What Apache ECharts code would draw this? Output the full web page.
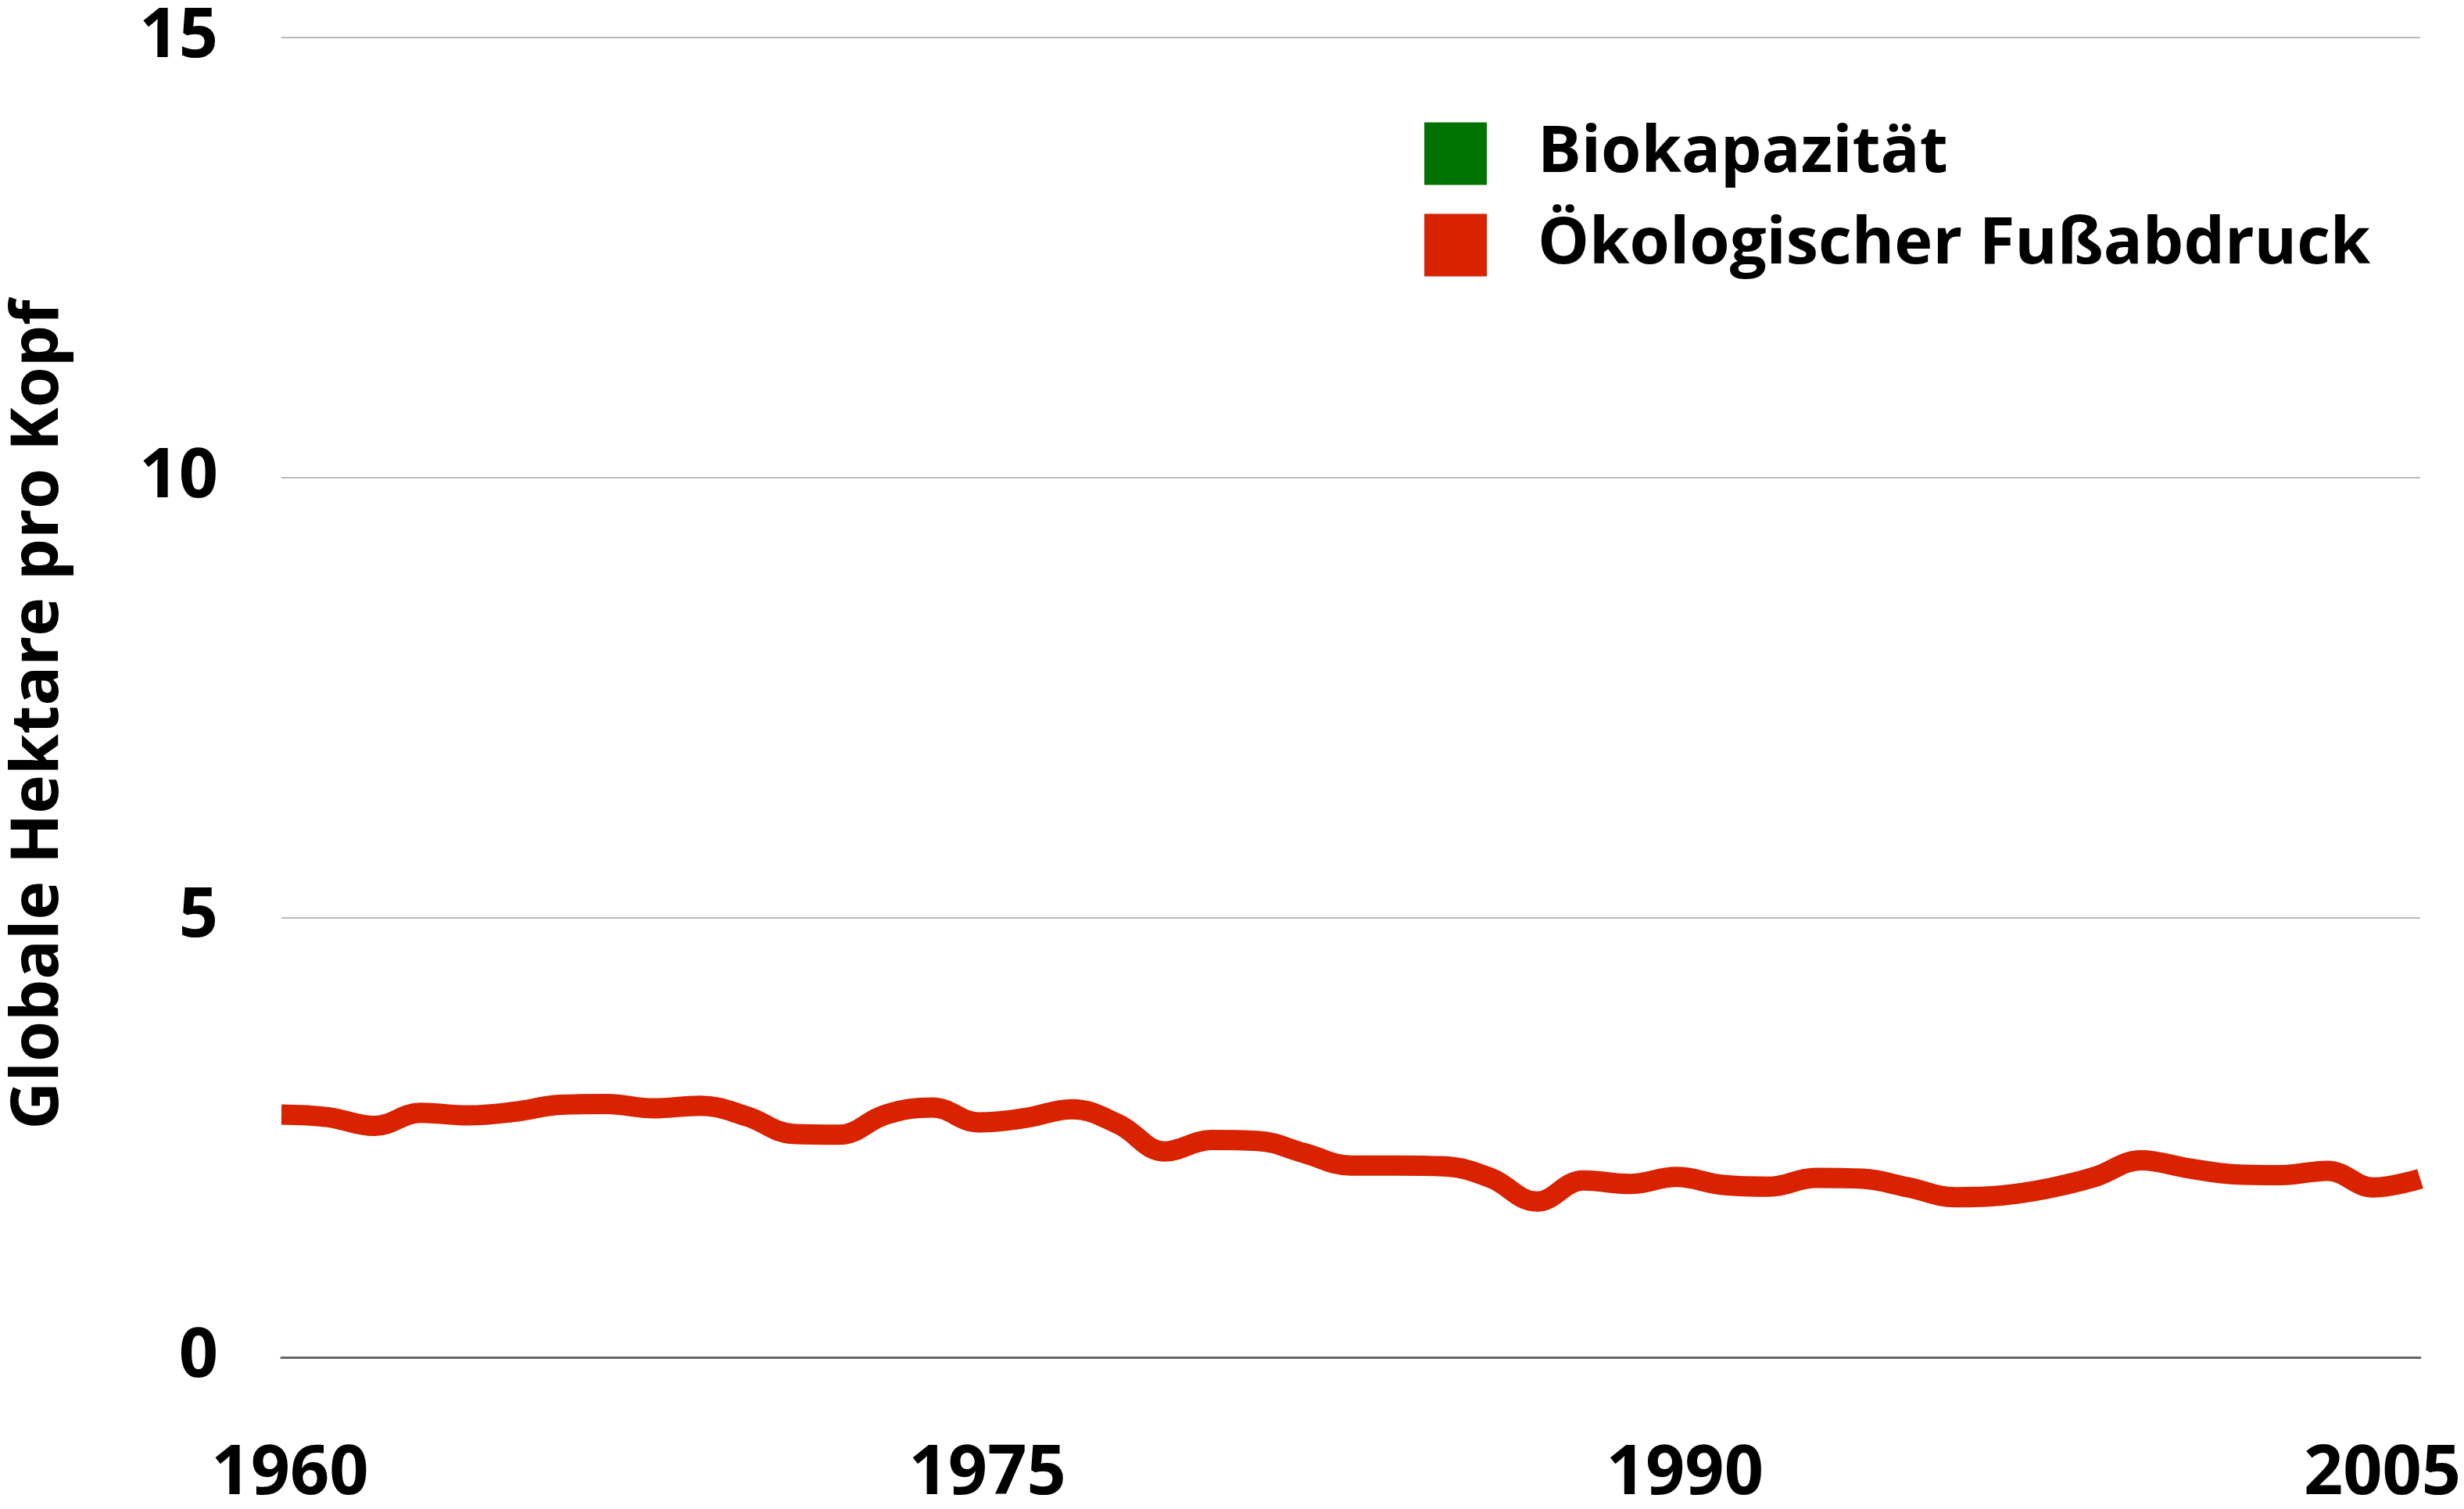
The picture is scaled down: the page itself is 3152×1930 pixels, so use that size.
<!DOCTYPE html>
<html>
<head>
<meta charset="utf-8">
<title>Globale Hektare pro Kopf</title>
<script src="https://cdn.jsdelivr.net/npm/echarts@6/dist/echarts.min.js"></script>
<style>
  html, body { margin: 0; padding: 0; background: #fff; }
  #chart { width: 3152px; height: 1930px; }
</style>
</head>
<body>
<div id="chart"></div>
<script>
// Data
const years = [
  1960, 1961, 1962, 1963, 1964, 1965, 1966, 1967, 1968, 1969,
  1970, 1971, 1972, 1973, 1974, 1975, 1976, 1977, 1978, 1979,
  1980, 1981, 1982, 1983, 1984, 1985, 1986, 1987, 1988, 1989,
  1990, 1991, 1992, 1993, 1994, 1995, 1996, 1997, 1998, 1999,
  2000, 2001, 2002, 2003, 2004, 2005, 2006
]
const footprint = [
  2.76, 2.73, 2.63, 2.78, 2.75, 2.79, 2.87, 2.88, 2.83, 2.86,
  2.74, 2.54, 2.53, 2.76, 2.84, 2.67, 2.72, 2.82, 2.65, 2.34,
  2.47, 2.46, 2.32, 2.18, 2.18, 2.17, 2.04, 1.77, 2.01, 1.97,
  2.05, 1.96, 1.94, 2.04, 2.03, 1.93, 1.82, 1.84, 1.92, 2.05,
  2.24, 2.15, 2.08, 2.07, 2.12, 1.93, 2.03
]
// no visible values for biocapacity in the picture, legend entry only
const biocapacity = []

const xTickLabels = [1960, 1975, 1990, 2005]
const yTickLabels = [0, 5, 10, 15]

const seriesNames = ['Biokapazität', 'Ökologischer Fußabdruck']
const colors = ['#007300', '#d82200']

const fontFamily = '"Open Sans", "Noto Sans", sans-serif'

const chart = echarts.init(document.getElementById('chart'), null, { renderer: 'canvas' })

const options = {
  backgroundColor: '#fff',
  animation: false,
  grid: {
    left: 358,
    right: 56,
    top: 48,
    bottom: 191
  },
  legend: {
    left: 1817,
    top: 150,
    orient: 'vertical',
    icon: 'rect',
    itemWidth: 80,
    itemHeight: 80,
    itemGap: 34,
    data: seriesNames,
    textStyle: {
      fontFamily: fontFamily,
      fontWeight: 'bold',
      fontSize: 83,
      color: '#000',
      padding: [0, 0, 0, 60]
    }
  },
  xAxis: {
    type: 'value',
    min: 1960,
    max: 2006,
    interval: 15,
    axisLine: { show: true, lineStyle: { color: '#666', width: 3 } },
    axisTick: { show: false },
    splitLine: { show: false },
    axisLabel: {
      margin: 106,
      fontFamily: fontFamily,
      fontWeight: 'bold',
      fontSize: 88,
      color: '#000',
      padding: [0, 0, 0, 22],
      formatter: v => xTickLabels.includes(v) ? String(v) : ''
    }
  },
  yAxis: {
    type: 'value',
    min: 0,
    max: 15,
    interval: 5,
    name: 'Globale Hektare pro Kopf',
    nameLocation: 'middle',
    nameRotate: 90,
    nameGap: 268,
    nameTextStyle: {
      fontFamily: fontFamily,
      fontWeight: 'bold',
      fontSize: 84,
      color: '#000',
      padding: [0, 44, 0, 0]
    },
    axisLine: { show: false },
    axisTick: { show: false },
    splitLine: { show: true, lineStyle: { color: '#bbb', width: 2 } },
    axisLabel: {
      margin: 81,
      fontFamily: fontFamily,
      fontWeight: 'bold',
      fontSize: 88,
      color: '#000',
      formatter: v => yTickLabels.includes(v) ? String(v) : ''
    }
  },
  series: [
    {
      name: seriesNames[0],
      type: 'line',
      data: biocapacity.map((v, i) => [years[i], v]),
      showSymbol: false,
      itemStyle: { color: colors[0] },
      lineStyle: { color: colors[0], width: 26 }
    },
    {
      name: seriesNames[1],
      type: 'line',
      data: footprint.map((v, i) => [years[i], v]),
      smooth: 0.4,
      showSymbol: false,
      itemStyle: { color: colors[1] },
      lineStyle: { color: colors[1], width: 26, cap: 'butt' }
    }
  ]
}

chart.setOption(options)
</script>
</body>
</html>
